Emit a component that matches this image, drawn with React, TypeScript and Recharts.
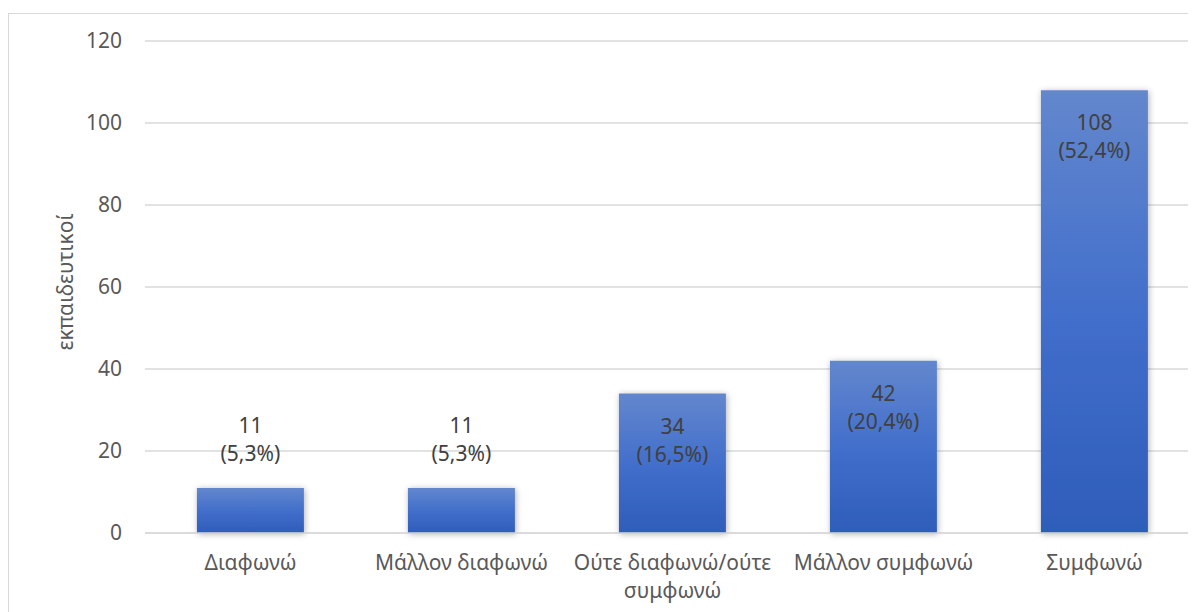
import React from 'react';
import { BarChart, Bar, XAxis, YAxis, CartesianGrid, LabelList } from 'recharts';

const categories = ['Διαφωνώ', 'Μάλλον διαφωνώ', 'Ούτε διαφωνώ/ούτε\nσυμφωνώ', 'Μάλλον συμφωνώ', 'Συμφωνώ'];
const counts = [11, 11, 34, 42, 108];
const percentLabels = ['(5,3%)', '(5,3%)', '(16,5%)', '(20,4%)', '(52,4%)'];
const yTicks = [0, 20, 40, 60, 80, 100, 120];
const yAxisTitle = 'εκπαιδευτικοί';

const data = categories.map((c, i) => ({ name: c, value: counts[i], pct: percentLabels[i] }));

const FONT = "'Noto Sans', 'Open Sans', sans-serif";
const TEXT = '#404040';
const AXIS_TEXT = '#595959';

const XTick = (props: any) => {
  const { x, y, payload } = props;
  const lines = String(payload.value).split('\n');
  return (
    <text x={x} y={y} textAnchor="middle" fill={AXIS_TEXT} fontSize={21} fontFamily={FONT}>
      {lines.map((l, i) => (
        <tspan key={i} x={x} dy={i === 0 ? 29 : 28}>{l}</tspan>
      ))}
    </text>
  );
};

const BarLabel = (props: any) => {
  const { x, y, width, height, index } = props;
  const cx = x + width / 2;
  const inside = height > 70;
  const l1 = inside ? y + 40 : y - 55;
  const l2 = inside ? y + 68 : y - 27;
  return (
    <g>
      <text x={cx} y={l1} textAnchor="middle" fill={TEXT} fontSize={21} fontFamily={FONT}>{counts[index]}</text>
      <text x={cx} y={l2} textAnchor="middle" fill={TEXT} fontSize={21} fontFamily={FONT}>{percentLabels[index]}</text>
    </g>
  );
};

const YTitle = (props: any) => {
  const { viewBox } = props;
  const x = viewBox.x - 20;
  const y = viewBox.y + viewBox.height / 2 - 5;
  return (
    <text x={x} y={y} transform={`rotate(-90, ${x}, ${y})`} textAnchor="middle" dominantBaseline="central" fill={AXIS_TEXT} fontSize={21} fontFamily={FONT}>
      {yAxisTitle}
    </text>
  );
};

export default function App() {
  return (
    <div
      style={{
        width: 1188,
        height: 599,
        marginTop: 5,
        boxSizing: 'border-box',
        borderTop: '1px solid #d9d9d9',
        borderLeft: '1px solid #d9d9d9',
        overflow: 'hidden',
        background: '#fff',
      }}
    >
      <BarChart
        width={1200}
        height={600}
        data={data}
        margin={{ top: 27, right: 9, left: 76, bottom: 11 }}
        barCategoryGap="24.6%"
      >
        <defs>
          <linearGradient id="barGrad" x1="0" y1="0" x2="0" y2="1">
            <stop offset="0%" stopColor="#6387CD" />
            <stop offset="50%" stopColor="#426FCB" />
            <stop offset="100%" stopColor="#2E5DB9" />
          </linearGradient>
          <filter id="barShadow" x="-20%" y="-20%" width="140%" height="140%">
            <feDropShadow dx="1" dy="1" stdDeviation="3" floodColor="#000" floodOpacity="0.3" />
          </filter>
        </defs>
        <CartesianGrid vertical={false} stroke="#d9d9d9" strokeWidth={1.3} />
        <XAxis
          dataKey="name"
          axisLine={{ stroke: '#d9d9d9', strokeWidth: 1.3 }}
          tickLine={false}
          tick={<XTick />}
          height={70}
          interval={0}
        />
        <YAxis
          domain={[0, 120]}
          ticks={yTicks}
          axisLine={false}
          tickLine={false}
          tickSize={0}
          tickMargin={23}
          width={60}
          tick={{ fill: AXIS_TEXT, fontSize: 21, fontFamily: FONT }}
          label={<YTitle />}
        />
        <Bar dataKey="value" fill="url(#barGrad)" isAnimationActive={false} filter="url(#barShadow)">
          <LabelList dataKey="value" content={<BarLabel />} />
        </Bar>
      </BarChart>
    </div>
  );
}
